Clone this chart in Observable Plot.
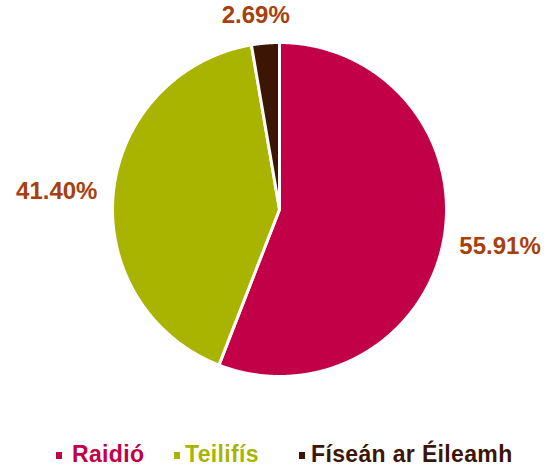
<!DOCTYPE html>
<html>
<head>
<meta charset="utf-8">
<script src="https://cdn.jsdelivr.net/npm/d3@7"></script>
<script src="https://cdn.jsdelivr.net/npm/@observablehq/plot@0.6"></script>
<style>
  body { margin: 0; background: #fff; font-family: "Liberation Sans", Arial, sans-serif; }
  #chart svg { display: block; }
  #legend { height: 34px; font-weight: bold; font-size: 23px; line-height: 23px; position: relative; letter-spacing: 0.35px; }
  .sw { position: absolute; width: 6px; height: 7px; top: 20px; }
  .tx { position: absolute; top: 11px; white-space: nowrap; }
</style>
</head>
<body>
<div id="chart"></div>
<div id="legend"></div>
<script>
const categories = ["Raidió", "Teilifís", "Físeán ar Éileamh"];
const values = [55.91, 41.40, 2.69];
const labels = ["55.91%", "41.40%", "2.69%"];
const colors = ["#C20048", "#A9B400", "#3C1505"];
const labelColor = "#A8400C";

const W = 546, H = 432;
const cx = 279, cy = 209, r = 167;

const arcs = d3.pie().sort(null).value(d => d)(values);
const polys = [];
const texts = [];
arcs.forEach((a, i) => {
  const key = categories[i];
  polys.push({key, x: cx, y: cy});
  const n = Math.max(2, Math.ceil((a.endAngle - a.startAngle) / 0.005));
  for (let k = 0; k <= n; k++) {
    const t = a.startAngle + (a.endAngle - a.startAngle) * k / n;
    polys.push({key, x: cx + r * Math.sin(t), y: cy - r * Math.cos(t)});
  }
  const m = (a.startAngle + a.endAngle) / 2;
  const s = Math.sin(m), c = Math.cos(m);
  let anchor = "middle", line = "middle", R = r + 16, dx = 0, dy = 0;
  if (s > 0.5) { anchor = "start"; dy = 3; }
  else if (s < -0.5) anchor = "end";
  else { line = c > 0 ? "bottom" : "top"; R = r + 20; dx = -8; }
  texts.push({key, label: labels[i], x: cx + R * s + dx, y: cy - R * c + dy, anchor, line});
});

const plot = Plot.plot({
  width: W, height: H,
  margin: 0,
  x: {domain: [0, W], range: [0, W], axis: null},
  y: {domain: [0, H], range: [0, H], axis: null},
  color: {domain: categories, range: colors},
  style: {fontFamily: '"Liberation Sans", Arial, sans-serif'},
  marks: [
    Plot.line(polys, {x: "x", y: "y", z: "key", fill: "key", stroke: "white", strokeWidth: 3, curve: "linear-closed"}),
    ...texts.map(t => Plot.text([t], {x: "x", y: "y", text: "label", textAnchor: t.anchor, lineAnchor: t.line,
      fill: labelColor, fontSize: 24, fontWeight: "bold"}))
  ]
});
document.getElementById("chart").appendChild(plot);

const legend = document.getElementById("legend");
const swX = [56, 174, 299];
const txX = [72, 185, 311];
categories.forEach((c, i) => {
  const sw = document.createElement("span");
  sw.className = "sw";
  sw.style.left = swX[i] + "px";
  sw.style.background = colors[i];
  legend.appendChild(sw);
  const tx = document.createElement("span");
  tx.className = "tx";
  tx.style.left = txX[i] + "px";
  tx.style.color = colors[i];
  tx.textContent = c;
  legend.appendChild(tx);
});
</script>
</body>
</html>
